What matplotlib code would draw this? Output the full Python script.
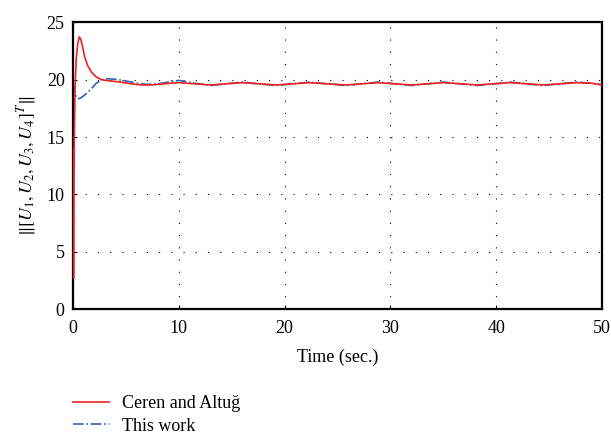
#!/usr/bin/env python3
"""Control input norm comparison: Ceren and Altuğ vs this work."""

import matplotlib
matplotlib.use("Agg")
import matplotlib.pyplot as plt

plt.rcParams["font.family"] = ["Liberation Serif", "DejaVu Serif"]
plt.rcParams["mathtext.fontset"] = "stix"

# Ceren and Altuğ (red solid)
t_ref = [0.0, 0.05, 0.12, 0.2, 0.3, 0.45, 0.6, 0.75, 0.9, 1.1, 1.4, 1.8, 2.2, 2.7,
         3.5, 4.5, 5.5, 6.5, 7.5, 8.5, 10.0, 11.5, 13.0, 14.5, 16.0, 17.5, 19.2,
         20.8, 22.3, 24.0, 25.8, 27.3, 28.8, 30.4, 32.0, 33.5, 35.0, 36.6, 38.2,
         39.8, 41.3, 42.9, 44.4, 46.0, 47.6, 49.0, 50.0]
u_ref = [14.0, 2.7, 15.0, 19.5, 21.8, 23.2, 23.75, 23.5, 22.9, 22.0, 21.2, 20.6,
         20.25, 20.0, 19.9, 19.8, 19.65, 19.55, 19.55, 19.65, 19.75, 19.65, 19.55,
         19.65, 19.75, 19.65, 19.55, 19.65, 19.75, 19.65, 19.55, 19.65, 19.75,
         19.65, 19.55, 19.65, 19.75, 19.65, 19.55, 19.65, 19.75, 19.65, 19.55,
         19.65, 19.75, 19.7, 19.55]

# This work (blue dash-dot)
t_new = [0.0, 0.15, 0.3, 0.45, 0.7, 1.0, 1.4, 1.8, 2.2, 2.6, 3.0, 4.0, 5.0, 6.0,
         7.0, 8.0, 9.0, 10.0, 11.5, 13.0, 14.5, 16.0, 17.5, 19.2, 20.8, 22.3,
         24.0, 25.8, 27.3, 28.8, 30.4, 32.0, 33.5, 35.0, 36.6, 38.2, 39.8, 41.3,
         42.9, 44.4, 46.0, 47.6, 49.0, 50.0]
u_new = [19.8, 19.0, 18.5, 18.35, 18.4, 18.6, 18.9, 19.3, 19.7, 19.95, 20.1, 20.05,
         19.9, 19.7, 19.6, 19.65, 19.8, 19.95, 19.7, 19.5, 19.65, 19.8, 19.65,
         19.5, 19.65, 19.8, 19.65, 19.5, 19.65, 19.8, 19.65, 19.5, 19.65, 19.8,
         19.65, 19.5, 19.65, 19.8, 19.65, 19.5, 19.65, 19.8, 19.7, 19.55]

x_ticks = [0, 10, 20, 30, 40, 50]
y_ticks = [0, 5, 10, 15, 20, 25]

fig = plt.figure(figsize=(6.11, 4.41), dpi=100)
ax = fig.add_axes([0.1195, 0.2993, 0.866, 0.6497])

ax.plot(t_ref, u_ref, color="#ee2222", lw=1.2, label="Ceren and Altuğ", zorder=3)
ax.plot(t_new, u_new, color="#3a5fb5", lw=1.2, ls="-.", label="This work", zorder=2)

ax.set_xlim(0, 50)
ax.set_ylim(0, 25)
ax.set_xticks(x_ticks)
ax.set_yticks(y_ticks)
ax.tick_params(direction="in", length=3, labelsize=13)
ax.tick_params(axis="x", pad=8)
ax.tick_params(axis="y", pad=6)
ax.grid(True, color="black", lw=0.8, ls=(0, (1, 10)))
for s in ax.spines.values():
    s.set_linewidth(1.6)

ax.set_xlabel("Time (sec.)", fontsize=13, labelpad=8)
ax.set_ylabel(r"$\|[U_1, U_2, U_3, U_4]^T\|$", fontsize=13, labelpad=6)

fig.legend(loc="upper left", bbox_to_anchor=(0.108, 0.12), frameon=False,
           fontsize=13, handlelength=2.0, borderaxespad=0, labelspacing=0.3,
           handletextpad=0.7)

fig.savefig("out.png", dpi=100)
